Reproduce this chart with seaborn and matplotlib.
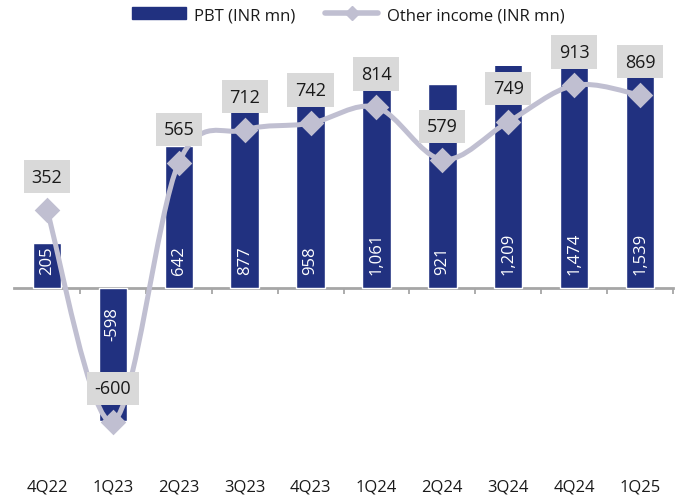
import numpy as np
import matplotlib.pyplot as plt
from matplotlib.path import Path
from matplotlib.patches import PathPatch, Patch
from matplotlib.lines import Line2D
import pandas as pd
import seaborn as sns

# data
quarters = ["4Q22", "1Q23", "2Q23", "3Q23", "4Q23", "1Q24", "2Q24", "3Q24", "4Q24", "1Q25"]
pbt = [205, -598, 642, 877, 958, 1061, 921, 1209, 1474, 1539]
other_income = [352, -600, 565, 712, 742, 814, 579, 749, 913, 869]

NAVY = "#213180"
LILAC = "#C0BFD1"
BOX = "#D9D9D9"
GREY = "#A6A6A6"
TXT = "#1a1a1a"

df = pd.DataFrame({"quarter": quarters, "pbt": pbt, "other": other_income})

sns.set_style("white")
plt.rcParams["font.family"] = ["Open Sans", "DejaVu Sans"]

fig = plt.figure(figsize=(6.83, 5.02), dpi=100)
ax = fig.add_axes([14 / 683, 35 / 502, 659 / 683, 400 / 502])

# bars
sns.barplot(data=df, x="quarter", y="pbt", color=NAVY, width=0.43,
            saturation=1, ax=ax, zorder=2)

# smoothed line (excel style catmull-rom through the points)
pts = np.column_stack([np.arange(len(quarters)), np.array(other_income, float)])
padded = np.vstack([pts[0], pts, pts[-1]])
verts = [pts[0]]
codes = [Path.MOVETO]
for i in range(len(pts) - 1):
    p0, p1, p2, p3 = padded[i], padded[i + 1], padded[i + 2], padded[i + 3]
    verts += [p1 + (p2 - p0) / 6, p2 - (p3 - p1) / 6, p2]
    codes += [Path.CURVE4] * 3
ax.add_patch(PathPatch(Path(verts, codes), fill=False, ec=LILAC, lw=3.6,
                       zorder=3, capstyle="round", joinstyle="round"))

sns.scatterplot(data=df, x="quarter", y="other", marker="D", s=170,
                color=LILAC, linewidth=0, ax=ax, zorder=4, legend=False)

ax.set_xlim(-0.5, len(quarters) - 0.5)
ax.set_ylim(-800, 1000)
ax.set_yticks([])
ax.set_xlabel("")
ax.set_ylabel("")
for s in ax.spines.values():
    s.set_visible(False)
ax.tick_params(axis="x", length=0, pad=9, labelsize=12, labelcolor=TXT)

# zero axis with category separators
sec = ax.secondary_xaxis(0, transform=ax.transData)
sec.set_xticks(np.arange(0.5, len(quarters), 1))
sec.tick_params(axis="x", direction="out", length=4, width=1.3, color=GREY,
                labelbottom=False)
sec.spines["bottom"].set_color(GREY)
sec.spines["bottom"].set_linewidth(2)

# bar labels, inside base
for i, v in enumerate(pbt):
    ax.annotate(f"{v:,}", (i, 0), xytext=(0, 10 if v > 0 else -13),
                textcoords="offset points", rotation=90, ha="center",
                va="bottom" if v > 0 else "top", color="white", fontsize=12,
                zorder=5)

# line labels, boxed above points
for i, v in enumerate(other_income):
    ax.annotate(f"{v:,}", (i, v), xytext=(0, 24), textcoords="offset points",
                ha="center", va="center", color=TXT, fontsize=13, zorder=6,
                bbox=dict(boxstyle="square,pad=0.42", fc=BOX, ec="none"))

handles = [Patch(color=NAVY),
           Line2D([0], [0], color=LILAC, lw=4, marker="D", ms=7)]
fig.legend(handles, ["PBT (INR mn)", "Other income (INR mn)"], loc="center",
           bbox_to_anchor=(0.51, 0.968), ncol=2, frameon=False, fontsize=12,
           handlelength=3.2, handletextpad=0.5, columnspacing=1.8,
           labelcolor=TXT)

fig.savefig("out.png", dpi=100)
